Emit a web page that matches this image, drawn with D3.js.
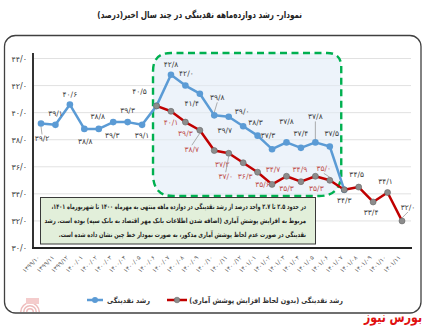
<!DOCTYPE html>
<html><head><meta charset="utf-8">
<script src="https://cdn.jsdelivr.net/npm/d3@7"></script>
<style>
html,body{margin:0;padding:0;background:#fff;}
svg{display:block;font-family:"DejaVu Sans",sans-serif;}
</style></head>
<body><svg id="c" width="425" height="327"></svg>
<script>
// ---- data ----
const categories = ["1399/10","1399/11","1399/12","1400/01","1400/02","1400/03","1400/04","1400/05","1400/06","1400/07","1400/08","1400/09","1400/10","1400/11","1400/12","1401/01","1401/02","1401/03","1401/04","1401/05","1401/06","1401/07","1401/08","1401/09","1401/10","1401/11"];
const liquidityGrowth = [39.2,39.1,40.6,38.8,38.8,39.3,39.3,39.1,40.5,42.8,42.0,41.4,39.8,39.7,39.0,38.3,37.3,37.8,37.4,37.8,37.5,34.3,null,null,null,null];
const liquidityGrowthAdjusted = [null,null,null,null,null,null,null,null,40.5,40.1,39.3,38.7,37.2,37.0,36.3,35.6,34.7,35.3,34.9,35.3,35.0,34.3,34.5,33.4,34.1,32.0];
const yTicks = [30,32,34,36,38,40,42,44];
const seriesNames = ["رشد نقدینگی","رشد نقدینگی (بدون لحاظ افزایش پوشش آماری)"];
const titleText = "نمودار- رشد دوازده‌ماهه نقدینگی در چند سال اخیر(درصد)";
const noteLines = [
 "در حدود ۲.۵ تا ۲.۷ واحد درصد از رشد نقدینگی در دوازده ماهه منتهی به مهرماه ۱۴۰۰ تا شهریورماه ۱۴۰۱،",
 "مربوط به افزایش پوشش آماری (اضافه شدن اطلاعات بانک مهر اقتصاد به بانک سپه) بوده است. رشد",
 "نقدینگی در صورت عدم لحاظ پوشش آماری مذکور، به صورت نمودار خط چین نشان داده شده است."
];

// ---- label layout (offsets of value labels, px) ----
const blueLabelOffsets = [[1,18,1],[0,-9],[0,-8],[1,15],[-1,-10],[-1,16],[0,-9],[0,13],[-17,-12],[0,-8],[1,-10],[-8,12],[3,-15,1],[-4,16],[-1,-12],[-2,-11],[-4,-11],[0,-18],[0,-12],[0,-23,1],[2,-10],[0,13]];
const redLabelOffsets = {9:[0,14],10:[0,14],11:[-8,22,1],12:[8,16],13:[-3,26,1],14:[2,16],15:[5,15],16:[1,-12],17:[0,15],18:[-1,-10],19:[1,15],20:[-6,-9,1],22:[-2,-10],23:[-2,13],24:[-2,-9],25:[6,-11,1]};

const fa = s => String(s).replace(/[0-9]/g, d => "۰۱۲۳۴۵۶۷۸۹"[+d]);
const fmt = v => fa(v.toFixed(1).replace(".", "/"));

const svg = d3.select("#c");

// RTL text fitted to a given width: right edge at xr
function rtlText(parent, str, xr, yb, width, size, weight, fill){
  const t = parent.append("text").attr("x",0).attr("y",0).style("direction","rtl")
    .attr("text-anchor","start").attr("font-size",size).attr("font-weight",weight).attr("fill",fill).text(str);
  const w = t.node().getComputedTextLength();
  const s = width / w;
  t.attr("transform",`translate(${xr},${yb}) scale(${s},1)`);
  return t;
}

// outer frame
svg.append("rect").attr("x",4.5).attr("y",35.5).attr("width",416.5).attr("height",277.5)
  .attr("rx",11).attr("fill","#fff").attr("stroke","#404040").attr("stroke-width",1.3);

// title
rtlText(svg, titleText, 302, 18, 205, 9.5, "bold", "#222");

const x = d3.scalePoint().domain(categories).range([41,402]);
const y = d3.scaleLinear().domain([30,44]).range([248,58.5]);

// gridlines
svg.append("g").selectAll("line").data(yTicks.filter(t=>t>30)).join("line")
  .attr("x1",33).attr("x2",411).attr("y1",d=>y(d)).attr("y2",d=>y(d))
  .attr("stroke","#d9d9d9").attr("stroke-width",0.8);

// highlight region (green dashed)
const bx0 = x(categories[8]) - 3.5, bx1 = x(categories[21]) - 3, by0 = 53, by1 = 196;
const r1 = 18;
const boxPath = `M${bx0},${by0+r1} Q${bx0},${by0} ${bx0+r1},${by0} L${bx1-14},${by0} Q${bx1},${by0} ${bx1},${by0+14} L${bx1},${by1-20} Q${bx1-2},${by1} ${bx1-22},${by1} L${bx0+20},${by1} Q${bx0},${by1} ${bx0},${by1-22} Z`;
svg.append("path").attr("d",boxPath).attr("fill","#edf3fa").attr("stroke","none");
svg.append("g").selectAll("line").data(yTicks.filter(t=>t>30 && y(t)>by0 && y(t)<by1)).join("line")
  .attr("x1",bx0).attr("x2",bx1).attr("y1",d=>y(d)).attr("y2",d=>y(d))
  .attr("stroke","#dfe4ea").attr("stroke-width",0.8);
svg.append("path").attr("d",boxPath).attr("fill","none").attr("stroke","#00b050")
  .attr("stroke-width",2.4).attr("stroke-dasharray","7,4.5");

// axes
svg.append("line").attr("x1",33).attr("x2",33).attr("y1",53).attr("y2",249).attr("stroke","#333").attr("stroke-width",2);
svg.append("line").attr("x1",32).attr("x2",412).attr("y1",248).attr("y2",248).attr("stroke","#222").attr("stroke-width",2);

// y tick labels
svg.append("g").selectAll("text").data(yTicks).join("text")
  .attr("x",27).attr("y",d=>y(d)+3).attr("text-anchor","end")
  .attr("font-size",8).attr("fill","#404040").text(d=>fmt(d));

// x tick labels
svg.append("g").selectAll("text").data(categories).join("text")
  .attr("transform",d=>`translate(${x(d)-1},${258}) rotate(-45)`)
  .attr("text-anchor","end").attr("font-size",6).attr("fill","#595959").text(d=>fa(d));

// lines
const blueData = categories.map((c,i)=>({c,i,v:liquidityGrowth[i]})).filter(d=>d.v!=null);
const redData = categories.map((c,i)=>({c,i,v:liquidityGrowthAdjusted[i]})).filter(d=>d.v!=null);
const line = d3.line().x(d=>x(d.c)).y(d=>y(d.v));

svg.append("path").datum(blueData).attr("d",line).attr("fill","none").attr("stroke","#5b9bd5").attr("stroke-width",2.5).attr("stroke-linejoin","round");
svg.append("g").selectAll("circle").data(blueData).join("circle")
  .attr("cx",d=>x(d.c)).attr("cy",d=>y(d.v)).attr("r",3.3).attr("fill","#5b9bd5");

svg.append("path").datum(redData).attr("d",line).attr("fill","none").attr("stroke","#c00000").attr("stroke-width",2.5).attr("stroke-linejoin","round");
svg.append("g").selectAll("circle").data(redData).join("circle")
  .attr("cx",d=>x(d.c)).attr("cy",d=>y(d.v)).attr("r",3).attr("fill","#8c8c8c").attr("stroke","#666").attr("stroke-width",0.6);

// value labels
const lbl = svg.append("g").attr("font-size",7.5);
function addLabel(d, off, color){
  const px = x(d.c), py = y(d.v);
  const lx = px + off[0], ly = py + off[1];
  if (off[2]) {
    const ty = off[1] > 0 ? ly - 7 : ly + 2;
    lbl.append("line").attr("x1",px).attr("y1",py + (off[1]>0?3:-3)).attr("x2",lx).attr("y2",ty)
      .attr("stroke","#8c8c8c").attr("stroke-width",0.7);
  }
  lbl.append("text").attr("x",lx).attr("y",ly).attr("text-anchor","middle").attr("fill",color).text(fmt(d.v));
}
blueData.forEach((d,k)=>addLabel(d, blueLabelOffsets[k], "#404040"));
redData.forEach(d=>{ const o = redLabelOffsets[d.i]; if(o) addLabel(d, o, d.i<=20 ? "#c0504d" : "#404040"); });

// note box
svg.append("rect").attr("x",40.5).attr("y",197.5).attr("width",275).attr("height",46.5)
  .attr("fill","#e2efda").attr("stroke","#3a3a3a").attr("stroke-width",1);
const noteWidths = [255, 262, 248];
noteLines.forEach((s,i)=>rtlText(svg, s, 306, 209 + i*14, noteWidths[i], 7, "bold", "#1f1f1f"));

// legend
const lg = svg.append("g");
lg.append("line").attr("x1",87).attr("x2",103).attr("y1",300).attr("y2",300).attr("stroke","#5b9bd5").attr("stroke-width",2.5);
lg.append("circle").attr("cx",95).attr("cy",300).attr("r",3).attr("fill","#5b9bd5");
rtlText(lg, seriesNames[0], 150, 303, 43, 7.5, "bold", "#333");
lg.append("line").attr("x1",167).attr("x2",187).attr("y1",300).attr("y2",300).attr("stroke","#c00000").attr("stroke-width",2.5);
lg.append("circle").attr("cx",177).attr("cy",300).attr("r",2.8).attr("fill","#8c8c8c").attr("stroke","#666").attr("stroke-width",0.6);
rtlText(lg, seriesNames[1], 343, 303, 154, 7.5, "bold", "#333");

// faint logo bottom-left
const logo = svg.append("g").attr("opacity",0.35);
[4,7,10].forEach(r=>logo.append("path").attr("d",d3.arc()({innerRadius:r-1.5,outerRadius:r,startAngle:-Math.PI/2,endAngle:Math.PI/2})).attr("transform","translate(30,312)").attr("fill","#d04040"));
logo.append("rect").attr("x",26).attr("y",298).attr("width",13).attr("height",6).attr("fill","#e07070");

// watermark
rtlText(svg, "بورس نیوز", 422, 322, 58, 14, "bold", "#e01010");
</script></body></html>
